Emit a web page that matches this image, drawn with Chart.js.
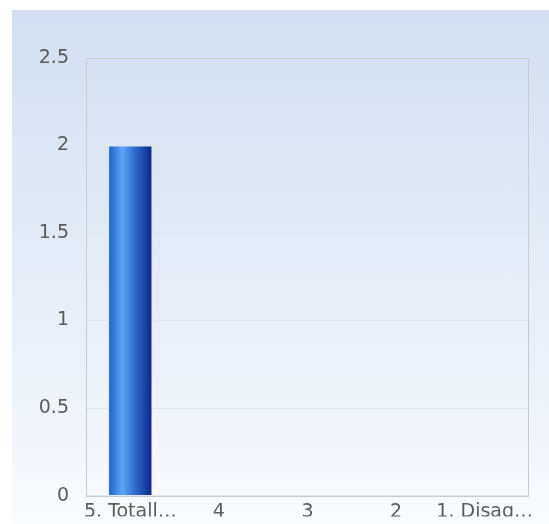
<!DOCTYPE html>
<html>
<head>
<meta charset="utf-8">
<script src="https://cdn.jsdelivr.net/npm/chart.js@4/dist/chart.umd.min.js"></script>
<style>
    html, body { margin: 0; padding: 0; background: #fff; overflow: hidden; }
    #wrap {
        position: absolute; left: 12px; top: 10px; width: 537px; height: 514px;
        background: linear-gradient(to bottom, #d3dff0 0%, #e6edf7 55%, #f9fbfe 100%);
    }
</style>
</head>
<body>
<div id="wrap"><canvas id="c" width="537" height="514"></canvas></div>
<script>
const categories = ["5. Totall…", "4", "3", "2", "1. Disag…"];
const counts = [2, 0, 0, 0, 0];
const yTicks = [0, 0.5, 1, 1.5, 2, 2.5];
const BAR_PCT = 0.5;

// cylinder-like shading across each bar, placed from the x scale
function barShade(ctx) {
    const chart = ctx.chart, xs = chart.scales.x;
    if (!xs || !chart.chartArea) return "#2f6bd0";
    const cx = xs.getPixelForValue(ctx.dataIndex);
    const half = (xs.width / categories.length) * BAR_PCT / 2;
    const g = chart.ctx.createLinearGradient(cx - half, 0, cx + half, 0);
    g.addColorStop(0, "#1d5cc6");
    g.addColorStop(0.32, "#5ea6f6");
    g.addColorStop(0.6, "#2f6bd0");
    g.addColorStop(1, "#0a2583");
    return g;
}

const frame = {
    id: "frame",
    afterDraw(chart) {
        const a = chart.chartArea, c = chart.ctx;
        c.save();
        c.strokeStyle = "#c9cbcf";
        c.lineWidth = 1;
        c.strokeRect(Math.round(a.left) + 0.5, Math.round(a.top) + 0.5,
            Math.round(a.right - a.left) - 1, Math.round(a.bottom - a.top));
        c.restore();
    }
};

new Chart(document.getElementById("c"), {
    type: "bar",
    data: {
        labels: categories,
        datasets: [{
            data: counts,
            backgroundColor: barShade,
            borderColor: "rgba(215,226,248,0.95)",
            borderWidth: 1,
            categoryPercentage: 1,
            barPercentage: BAR_PCT
        }]
    },
    options: {
        responsive: false,
        animation: false,
        layout: { padding: { top: 48, right: 20, left: 0, bottom: 0 } },
        scales: {
            x: {
                grid: { display: false, drawTicks: false },
                border: { display: false },
                ticks: { color: "#5c5c5c", font: { family: "DejaVu Sans", size: 19 }, padding: 5, maxRotation: 0, autoSkip: false },
                afterFit(s) { s.height = 21; }
            },
            y: {
                min: 0, max: 2.5,
                afterBuildTicks(s) { s.ticks = yTicks.map(v => ({ value: v })); },
                grid: { color: "#e2e7ee", drawTicks: false },
                border: { display: false },
                ticks: { color: "#5c5c5c", font: { family: "DejaVu Sans", size: 19 }, padding: 17, callback: v => String(v) },
                afterFit(s) { s.width = 74; }
            }
        },
        plugins: { legend: { display: false }, tooltip: { enabled: false } }
    },
    plugins: [frame]
});
</script>
</body>
</html>
